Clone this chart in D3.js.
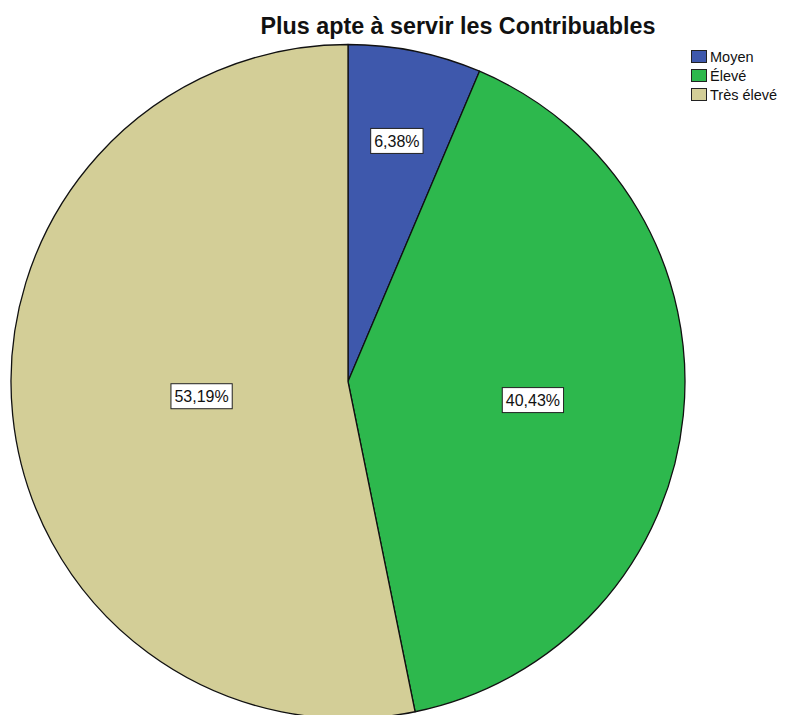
<!DOCTYPE html>
<html><head><meta charset="utf-8">
<script src="https://cdn.jsdelivr.net/npm/d3@7"></script>
<style>body{margin:0;background:#fff;} svg{display:block;}</style>
</head><body>
<svg id="c" width="786" height="715"></svg>
<script>
const categories = ["Moyen", "Élevé", "Très élevé"];
const values = [6.38, 40.43, 53.19];
const labels = ["6,38%", "40,43%", "53,19%"];
const colors = ["#3e58ac", "#2db84d", "#d3ce97"];
const title = "Plus apte à servir les Contribuables";

const svg = d3.select("#c");
const cx = 348, cy = 381.5, R = 337;
const font = "'Liberation Sans', Arial, sans-serif";

svg.append("text").attr("x", 458).attr("y", 34).attr("text-anchor", "middle")
  .attr("font-family", font).attr("font-weight", "bold").attr("font-size", 23.3)
  .attr("fill", "#111").text(title);

const pie = d3.pie().sort(null).value(d => d)(values);
const arc = d3.arc().innerRadius(0).outerRadius(R);
const g = svg.append("g").attr("transform", `translate(${cx},${cy})`);
g.selectAll("path").data(pie).join("path")
  .attr("d", arc).attr("fill", (d, i) => colors[i])
  .attr("stroke", "#111").attr("stroke-width", 1.3).attr("stroke-linejoin", "round");

// labels near the area centroid of each sector
pie.forEach((d, i) => {
  const th = d.endAngle - d.startAngle;
  const mid = (d.startAngle + d.endAngle) / 2;
  const dist = 4 * R * Math.sin(th / 2) / (3 * th) * 1.1;
  const x = dist * Math.sin(mid), y = -dist * Math.cos(mid);
  const lg = g.append("g").attr("transform", `translate(${x},${y})`);
  const t = lg.append("text").attr("text-anchor", "middle").attr("dy", "0.36em")
    .attr("font-family", font).attr("font-size", 16).attr("fill", "#111").text(labels[i]);
  const bb = t.node().getBBox();
  lg.insert("rect", "text").attr("x", bb.x - 3.5).attr("y", -12.5).attr("width", bb.width + 7).attr("height", 25)
    .attr("fill", "#fff").attr("stroke", "#222").attr("stroke-width", 1);
});

// legend
const leg = svg.append("g").attr("transform", "translate(691,50)");
categories.forEach((c, i) => {
  const r = leg.append("g").attr("transform", `translate(0,${i * 19})`);
  r.append("rect").attr("x", 0.5).attr("y", 0.5).attr("width", 15).attr("height", 12)
    .attr("fill", colors[i]).attr("stroke", "#222").attr("stroke-width", 1);
  r.append("text").attr("x", 19).attr("y", 12).attr("font-family", font).attr("font-size", 14.5)
    .attr("fill", "#111").text(c);
});
</script>
</body></html>
